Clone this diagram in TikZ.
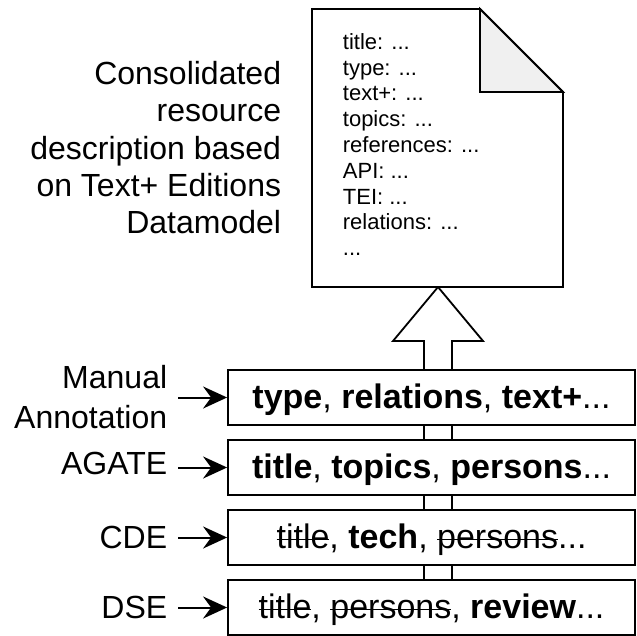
\documentclass[tikz,border=0pt]{standalone}
\usepackage{fontspec}
\setmainfont{Liberation Sans}
\usetikzlibrary{arrows.meta,positioning}
\definecolor{foldgray}{HTML}{F0F0F0}
\newsavebox{\delbox}
\newcommand{\del}[1]{\sbox{\delbox}{#1}%
  \rlap{\raisebox{0.24em}{\rule{\wd\delbox}{1.3pt}}}\usebox{\delbox}}

\begin{document}
\begin{tikzpicture}[x=1pt,y=-1pt,line width=1.8pt,
  layer/.style={draw,rectangle,fill=white,minimum width=407pt,minimum height=55pt,
    inner sep=0pt,font=\fontsize{34}{40}\selectfont,text height=25pt,text depth=3pt},
  source/.style={align=right,inner xsep=10pt,inner ysep=0pt,
    font=\fontsize{32}{40}\selectfont},
  feed/.style={line width=2pt,-{Stealth[length=24pt,width=22pt,inset=8pt]}}]
  \useasboundingbox (0,0) rectangle (637,635);

  % upward block arrow behind the layers
  \draw[fill=white] (438,287) -- (483,341) -- (452,341) -- (452,620)
    -- (424,620) -- (424,341) -- (393,341) -- cycle;

  % consolidated record
  \draw[fill=white] (312,9) -- (480,9) -- (563,92) -- (563,287) -- (312,287) -- cycle;
  \draw[fill=foldgray] (480,9) -- (563,92) -- (480,92) -- cycle;
  \node[anchor=north west,inner sep=0pt,align=left,font=\fontsize{22}{25.8}\selectfont]
    (fields) at (342,32.5)
    {title: ...\\type: ...\\text+: ...\\topics: ...\\references: ...\\API: ...\\TEI: ...\\relations: ...\\...};
  \node[anchor=north east,inner sep=0pt,align=right,font=\fontsize{32}{37.25}\selectfont]
    (caption) at (282,60.5)
    {Consolidated\\resource\\description based\\on Text+ Editions\\Datamodel};

  % source layers
  \node[layer] (manual) at (431.5,397.5) {\textbf{type}, \textbf{relations}, \textbf{text+}...};
  \node[layer] (agate) at (431.5,467.5) {\textbf{title}, \textbf{topics}, \textbf{persons}...};
  \node[layer] (cde) at (431.5,537.5) {\del{title}, \textbf{tech}, \del{persons}...};
  \node[layer] (dse) at (431.5,607.5) {\del{title}, \del{persons}, \textbf{review}...};

  \node[source,left=49pt of manual] (lblmanual) {Manual\\Annotation};
  \node[source,left=49pt of agate,yshift=4pt] (lblagate) {AGATE};
  \node[source,left=49pt of cde] (lblcde) {CDE};
  \node[source,left=49pt of dse] (lbldse) {DSE};

  \draw[feed] (lblmanual.east) -- (manual.west);
  \draw[feed] (lblagate.east |- agate.west) -- (agate.west);
  \draw[feed] (lblcde.east) -- (cde.west);
  \draw[feed] (lbldse.east) -- (dse.west);
\end{tikzpicture}
\end{document}
